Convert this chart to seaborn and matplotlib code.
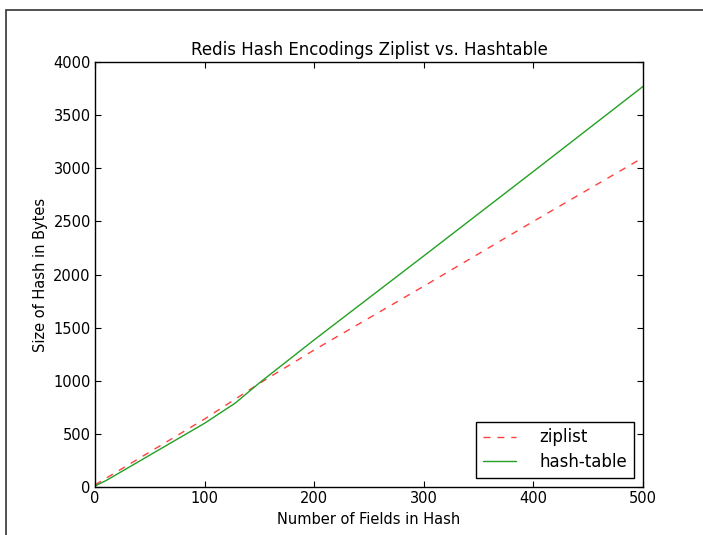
import matplotlib
matplotlib.use("Agg")
import matplotlib.pyplot as plt
import seaborn as sns
import pandas as pd
from matplotlib.patches import Rectangle

fields_zip = [0, 50, 100, 150, 200, 300, 400, 500]
size_zip = [20, 330, 640, 975, 1290, 1890, 2500, 3100]
fields_hash = [0, 10, 50, 100, 128, 150, 200, 250, 300, 400, 500]
size_hash = [10, 60, 300, 600, 790, 980, 1385, 1780, 2175, 2970, 3770]

df = pd.concat([
    pd.DataFrame({"fields": fields_zip, "size": size_zip, "enc": "ziplist"}),
    pd.DataFrame({"fields": fields_hash, "size": size_hash, "enc": "hash-table"}),
])

sns.set_style("ticks", {"xtick.direction": "in", "ytick.direction": "in",
                        "axes.edgecolor": "black", "text.color": "black",
                        "axes.labelcolor": "black", "xtick.color": "black",
                        "ytick.color": "black"})
plt.rcParams["font.family"] = ["DejaVu Sans"]

fig = plt.figure(figsize=(7.03, 5.35), dpi=100)
ax = fig.add_axes([95/703, 1-487/535, (643-95)/703, (487-62)/535])

sns.lineplot(data=df, x="fields", y="size", hue="enc", style="enc",
             palette={"ziplist": "#ff4040", "hash-table": "#22a022"},
             dashes={"ziplist": (5, 5), "hash-table": ""},
             linewidth=1.0, ax=ax)

ax.set_xlim(0, 500)
ax.set_ylim(0, 4000)
ax.set_xticks([0, 100, 200, 300, 400, 500])
ax.set_yticks(range(0, 4001, 500))
ax.tick_params(axis="both", which="both", top=True, right=True, length=4,
               labelsize=10.5, width=0.8, pad=3, colors="black")
for s in ax.spines.values():
    s.set_linewidth(1.0)
    s.set_visible(True)
ax.set_title("Redis Hash Encodings Ziplist vs. Hashtable", fontsize=12, pad=5,
             color="black")
ax.set_xlabel("Number of Fields in Hash", fontsize=10.5, color="black")
ax.set_ylabel("Size of Hash in Bytes", fontsize=10.5, color="black")

handles, labels = ax.get_legend_handles_labels()
leg = ax.legend(handles, labels, loc="lower right", fontsize=12, frameon=True,
                fancybox=False, edgecolor="black", framealpha=1,
                borderaxespad=0.55, handlelength=2.0, handletextpad=1.4,
                borderpad=0.4, labelspacing=0.4)
leg.get_frame().set_linewidth(1.0)
for t in leg.get_texts():
    t.set_color("black")

fig.patches.append(Rectangle((6/703, -0.2), 2, 1.2 - 10/535, transform=fig.transFigure,
                             fill=False, edgecolor="#333333", linewidth=1.2))

fig.savefig("out.png", dpi=100)
